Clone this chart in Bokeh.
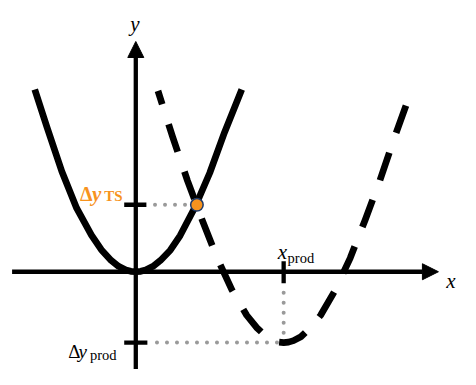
import math
from bokeh.plotting import figure
from bokeh.models import Range1d, Arrow, NormalHead
from bokeh.core.properties import value
from bokeh.embed import file_html
from bokeh.resources import INLINE

# ---- data (arbitrary units; x_prod = 3) ----
x_prod = 3.0
dy_prod = -1.45
dy_ts = 1.37
x_ts = 1.24

# solid curve (reactant)
solid_x = [-2.05, -1.8, -1.5, -1.2, -0.9, -0.7, -0.5, -0.35, -0.2, -0.1, 0.0, 0.1, 0.2, 0.35, 0.5,
           0.7, 0.9, 1.2, 1.5, 1.8, 2.15]
solid_y = [3.73, 2.95, 2.05, 1.30, 0.75, 0.45, 0.23, 0.11, 0.036, 0.009, 0.0, 0.009, 0.036, 0.11, 0.23,
           0.44, 0.74, 1.32, 2.02, 2.85, 3.73]

# dashed curve (product)
dashed_x = [0.45, 0.75, 1.05, 1.35, 1.65, 1.95, 2.25, 2.45, 2.65, 2.8, 2.9, 3.0, 3.1, 3.2, 3.35, 3.55,
            3.75, 4.05, 4.35, 4.65, 4.95, 5.25, 5.5]
dashed_y = [3.70, 2.75, 1.86, 1.05, 0.28, -0.37, -0.89, -1.14, -1.33, -1.41, -1.44, -1.45, -1.44,
            -1.41, -1.33, -1.14, -0.89, -0.37, 0.28, 1.05, 1.86, 2.75, 3.45]

axis_labels = ["x", "y"]

BLACK = "#000000"
ORANGE = "#F7931E"
GREY = "#9A9A9A"
SERIF = value("Liberation Serif")

W, H = 460, 369
X0, X1 = -2.745, 6.588
Y0, Y1 = -2.0, 5.549

p = figure(width=W, height=H, x_range=Range1d(X0, X1), y_range=Range1d(Y0, Y1),
           output_backend="svg", toolbar_location=None, min_border=0,
           x_axis_location=None, y_axis_location=None)
p.grid.visible = False
p.outline_line_color = None
p.background_fill_color = "white"

# axes with arrow heads
p.add_layout(Arrow(end=NormalHead(size=16, fill_color=BLACK, line_color=BLACK, line_width=1),
                   x_start=-2.51, y_start=0, x_end=6.14, y_end=0,
                   line_width=4.3, line_color=BLACK))
p.add_layout(Arrow(end=NormalHead(size=16, fill_color=BLACK, line_color=BLACK, line_width=1),
                   x_start=0, y_start=-2.3, x_end=0, y_end=4.71,
                   line_width=4.3, line_color=BLACK))

# dotted guide lines
p.line([0.39, x_ts], [dy_ts, dy_ts], line_color=GREY, line_width=4, line_dash="0 10", line_cap="round")
p.line([0.43, x_prod - 0.1], [dy_prod, dy_prod], line_color=GREY, line_width=4, line_dash="0 10", line_cap="round")
p.line([x_prod, x_prod], [-0.43, dy_prod + 0.15], line_color=GREY, line_width=4, line_dash="0 10", line_cap="round")

# ticks
p.segment(x0=[-0.235, -0.235, x_prod], y0=[dy_ts, dy_prod, 0.216],
          x1=[0.215, 0.235, x_prod], y1=[dy_ts, dy_prod, -0.235],
          line_color=BLACK, line_width=4.3)

# curves
p.line(solid_x, solid_y, line_color=BLACK, line_width=6.7, line_join="round")

# dash phase: start a dash just at the vertex, as in the reference
DASH, GAP = 29, 21
sx = W / (X1 - X0)
sy = H / (Y1 - Y0)
L = 0.0
for i in range(1, len(dashed_x)):
    if dashed_x[i] > x_prod - 0.1:
        break
    L += math.hypot((dashed_x[i] - dashed_x[i - 1]) * sx, (dashed_y[i] - dashed_y[i - 1]) * sy)
offset = (-L) % (DASH + GAP)
p.line(dashed_x, dashed_y, line_color=BLACK, line_width=6.7, line_join="round",
       line_dash=f"{DASH} {GAP}", line_dash_offset=int(round(offset)))

# transition state point
p.scatter([x_ts], [dy_ts], size=12.5, fill_color=ORANGE, line_color="#1F3A68", line_width=1.5)

# axis labels
p.text(x=[-0.02], y=[5.06], text=[axis_labels[1]], text_font=SERIF, text_font_style="italic",
       text_font_size="21px", text_align="center", text_baseline="alphabetic", text_color=BLACK)
p.text(x=[6.3], y=[-0.18], text=[axis_labels[0]], text_font=SERIF, text_font_style="italic",
       text_font_size="21px", text_align="left", text_baseline="alphabetic", text_color=BLACK)

# Δy_TS (orange, bold)
p.text(x=[-1.13], y=[1.59], text=["Δ"], text_font=SERIF, text_font_style="bold",
       text_font_size="20px", text_baseline="alphabetic", text_color=ORANGE)
p.text(x=[-0.89], y=[1.59], text=["y"], text_font=SERIF, text_font_style="bold italic",
       text_font_size="21px", text_baseline="alphabetic", text_color=ORANGE)
p.text(x=[-0.64], y=[1.54], text=["TS"], text_font=SERIF, text_font_style="bold",
       text_font_size="15px", text_baseline="alphabetic", text_color=ORANGE)

# Δy_prod
p.text(x=[-1.37], y=[-1.63], text=["Δ"], text_font=SERIF,
       text_font_size="19px", text_baseline="alphabetic", text_color=BLACK)
p.text(x=[-1.16], y=[-1.63], text=["y"], text_font=SERIF, text_font_style="italic",
       text_font_size="19px", text_baseline="alphabetic", text_color=BLACK)
p.text(x=[-0.93], y=[-1.71], text=["prod"], text_font=SERIF,
       text_font_size="14.5px", text_baseline="alphabetic", text_color=BLACK)

# x_prod
p.text(x=[2.88], y=[0.41], text=["x"], text_font=SERIF, text_font_style="italic",
       text_font_size="21px", text_baseline="alphabetic", text_color=BLACK)
p.text(x=[3.08], y=[0.29], text=["prod"], text_font=SERIF,
       text_font_size="14.5px", text_baseline="alphabetic", text_color=BLACK)

open("out.html", "w").write(file_html(p, INLINE))
